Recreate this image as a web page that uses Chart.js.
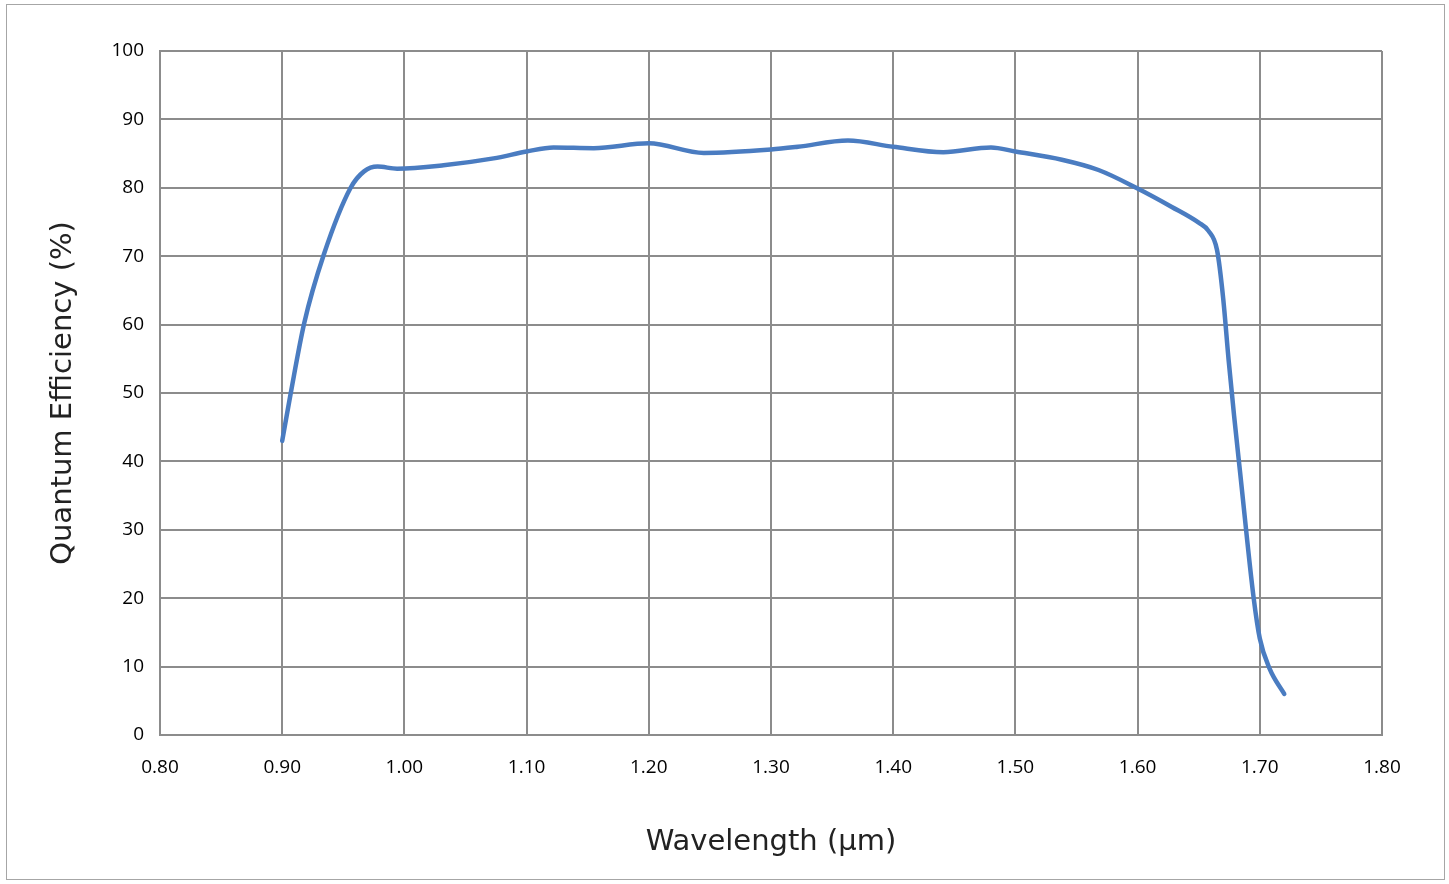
<!DOCTYPE html>
<html>
<head>
<meta charset="utf-8">
<script src="https://cdn.jsdelivr.net/npm/chart.js@4/dist/chart.umd.min.js"></script>
<style>
  html, body { margin: 0; padding: 0; background: #fff; }
  #wrap { width: 1449px; height: 884px; }
</style>
</head>
<body>
<div id="wrap"><canvas id="qe"></canvas></div>
<script>
// wavelength in um, QE in %
const wavelength = [0.900, 0.907, 0.918, 0.934, 0.956, 0.967, 0.978, 0.994, 1.032, 1.073,
    1.100, 1.122, 1.155, 1.200, 1.245, 1.300, 1.322, 1.363, 1.400, 1.441,
    1.480, 1.500, 1.538, 1.568, 1.600, 1.628, 1.650, 1.658, 1.665, 1.670,
    1.6745, 1.679, 1.684, 1.695, 1.700, 1.708, 1.720];
const efficiency = [43.0, 50.0, 60.2, 70.2, 80.0, 82.4, 83.1, 82.8, 83.3, 84.3,
    85.3, 85.9, 85.8, 86.5, 85.1, 85.6, 86.0, 86.9, 86.0, 85.2,
    85.9, 85.3, 84.1, 82.6, 79.9, 77.2, 74.9, 73.7, 70.9, 63.9,
    54.8, 46.6, 38.2, 20.0, 14.1, 9.7, 6.0];
const xTicks = [0.8, 0.9, 1.0, 1.1, 1.2, 1.3, 1.4, 1.5, 1.6, 1.7, 1.8];
const yTicks = [0, 10, 20, 30, 40, 50, 60, 70, 80, 90, 100];

const gridColor = '#8c8c8c'
const tickFont = { family: 'Open Sans', size: 19 }
const titleFont = { family: 'DejaVu Sans', size: 29 }

// light frame round the whole chart
const frame = {
    id: 'frame',
    beforeDraw(chart) {
        const c = chart.ctx;
        c.save();
        c.fillStyle = '#fff';
        c.fillRect(0, 0, chart.width, chart.height);
        c.strokeStyle = '#a6a6a6';
        c.lineWidth = 1;
        c.strokeRect(6.5, 4.5, 1438, 875);
        c.restore();
    }
};

const points = wavelength.map((w, i) => ({ x: w, y: efficiency[i] }));

const config = {
    type: 'scatter',
    data: {
        datasets: [{
            label: 'QE',
            data: points,
            showLine: true,
            borderColor: '#4a7cc1',
            borderWidth: 4.5,
            pointRadius: 0,
            cubicInterpolationMode: 'monotone',
            borderCapStyle: 'round',
            borderJoinStyle: 'round'
        }]
    },
    options: {
        responsive: false,
        animation: false,
        layout: { padding: { top: 51, right: 67, left: 0, bottom: 0 } },
        plugins: { legend: { display: false }, tooltip: { enabled: false } },
        scales: {
            x: {
                type: 'linear',
                min: 0.8,
                max: 1.8,
                afterBuildTicks(scale) { scale.ticks = xTicks.map(v => ({ value: v })); },
                afterFit(scale) { scale.height = 149; },
                grid: { color: gridColor, lineWidth: 2, drawTicks: false },
                border: { color: gridColor, width: 2 },
                ticks: {
                    color: '#000', font: tickFont, padding: 21,
                    maxRotation: 0,
                    callback: v => Number(v).toFixed(2)
                },
                title: {
                    display: true, text: 'Wavelength (μm)', color: '#222',
                    font: titleFont, padding: { top: 0, bottom: 24 }
                }
            },
            y: {
                min: 0,
                max: 100,
                afterBuildTicks(scale) { scale.ticks = yTicks.map(v => ({ value: v })); },
                afterFit(scale) { scale.width = 160; },
                grid: { color: gridColor, lineWidth: 2, drawTicks: false },
                border: { color: gridColor, width: 2 },
                ticks: { color: '#000', font: tickFont, padding: 16 },
                title: {
                    display: true, text: 'Quantum Efficiency (%)', color: '#222',
                    font: titleFont, padding: { top: 46, bottom: 0 }
                }
            }
        }
    },
    plugins: [frame]
};

const canvas = document.getElementById('qe');
canvas.width = 1449;
canvas.height = 884;
new Chart(canvas.getContext('2d'), config);
</script>
</body>
</html>
